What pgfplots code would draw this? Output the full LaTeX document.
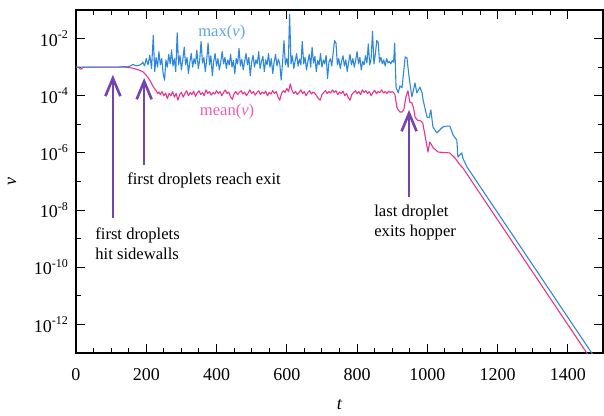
\documentclass[border=0pt]{standalone}
\usepackage{pgfplots}
\pgfplotsset{compat=1.18}
\usepackage{fontspec}
\setmainfont{Liberation Serif}
\usetikzlibrary{arrows.meta}

\definecolor{maxblue}{RGB}{45,135,222}
\definecolor{maxlabel}{RGB}{95,165,232}
\definecolor{meanpink}{RGB}{232,52,140}
\definecolor{meanlabel}{RGB}{236,95,170}
\definecolor{arrowpurple}{RGB}{115,68,178}

\begin{document}
\begin{tikzpicture}
\begin{axis}[
    scale only axis,
    width=263.5pt, height=171.5pt,
    at={(0,0)}, anchor=south west,
    ymode=log,
    xmin=0, xmax=1500,
    ymin=1e-13, ymax=1e-1,
    axis line style={line width=0.65pt},
    tick align=inside,
    tick style={black, line width=0.5pt},
    major tick length=4.5pt,
    minor tick length=2.3pt,
    xtick={0,200,400,600,800,1000,1200,1400},
    xticklabels={0,200,400,600,800,1000,1200,1400},
    minor x tick num=3,
    ytick={1e-12,1e-10,1e-8,1e-6,1e-4,1e-2},
    yticklabels={10\textsuperscript{-12},10\textsuperscript{-10},10\textsuperscript{-8},10\textsuperscript{-6},10\textsuperscript{-4},10\textsuperscript{-2}},
    minor ytick={1e-13,1e-11,1e-9,1e-7,1e-5,1e-3,1e-1},
    ticklabel style={font=\fontsize{9}{10}\selectfont},
    xticklabel style={yshift=-4pt},
    xlabel={\textit{t}},
    ylabel={\textit{v}},
    xlabel style={font=\fontsize{9}{10}\selectfont, at={(axis description cs:0.5,0)}, anchor=center, yshift=-26pt},
    ylabel style={font=\fontsize{9}{10}\selectfont, at={(axis description cs:0,0.5)}, anchor=center, yshift=32pt},
    clip=true,
]
% mean(v)
\addplot[meanpink, line width=0.55pt, line join=round] coordinates {
(0,1e-3) (8,1e-3) (12,8.5e-4) (16,8.7e-4) (20,1e-3) (140,1e-3) (160,9.3e-4)
(179,7.9e-4) (190,7e-4) (199,5.4e-4) (206,4.2e-4) (213,3e-4) (218,2.3e-4)
(222,1.9e-4) (228,1.5e-4) (232,1.2e-4) (236,1.35e-4)
(240,1.1e-4) (245,1.4e-4) (250,1.0e-4) (255,1.25e-4) (260,8e-5) (265,1.2e-4)
(270,1.0e-4) (275,1.4e-4) (280,9e-5) (285,1.2e-4) (290,7e-5) (295,1.1e-4)
(300,1.3e-4) (305,9e-5) (310,1.2e-4) (315,1.5e-4) (320,1.0e-4) (325,1.3e-4)
(330,1.1e-4) (335,1.45e-4) (340,9.5e-5) (345,1.25e-4) (350,1.5e-4) (355,1.1e-4)
(360,1.3e-4) (365,1.0e-4) (370,1.6e-4) (375,1.2e-4) (380,1.4e-4) (385,1.05e-4)
(390,1.3e-4) (395,1.15e-4) (400,1.5e-4) (405,1.2e-4) (410,1.4e-4) (415,1.0e-4)
(420,1.3e-4) (425,1.6e-4) (430,1.2e-4) (435,1.35e-4) (440,9e-5) (445,7.5e-5)
(450,1.2e-4) (455,1.4e-4) (460,1.1e-4) (465,1.3e-4) (470,1.5e-4) (475,1.15e-4)
(480,1.35e-4) (485,1.0e-4) (490,1.25e-4) (495,1.6e-4) (500,1.2e-4) (505,1.4e-4)
(510,1.05e-4) (515,1.3e-4) (520,1.5e-4) (525,1.1e-4) (530,1.35e-4) (535,1.2e-4)
(540,1.45e-4) (545,1.0e-4) (550,1.3e-4) (555,1.15e-4) (560,1.5e-4) (565,1.2e-4)
(570,1.4e-4) (575,9e-5) (580,7e-5) (585,1.2e-4) (590,1.5e-4) (595,1.3e-4)
(600,1.8e-4) (605,1.4e-4) (610,2.6e-4) (615,1.5e-4) (620,1.2e-4) (625,1.4e-4)
(630,1.1e-4) (635,1.3e-4) (640,1.6e-4) (645,1.2e-4) (650,1.4e-4) (655,1.0e-4)
(660,1.3e-4) (665,1.5e-4) (670,1.15e-4) (675,1.35e-4) (680,1.2e-4) (685,1.0e-4)
(690,8e-5) (695,7e-5) (700,1.1e-4) (705,1.3e-4) (710,1.5e-4) (715,1.2e-4)
(720,1.4e-4) (725,1.25e-4) (730,1.6e-4) (735,1.3e-4) (740,1.5e-4) (745,1.1e-4)
(750,1.35e-4) (755,1.2e-4) (760,1.45e-4) (765,1.0e-4) (770,1.2e-4) (775,8.5e-5)
(780,7e-5) (785,1.1e-4) (790,1.3e-4) (795,1.5e-4) (800,1.2e-4) (805,1.4e-4)
(810,1.1e-4) (815,1.6e-4) (820,1.3e-4) (825,1.5e-4) (830,1.2e-4) (835,1.4e-4)
(840,1.0e-4) (845,1.3e-4) (850,1.55e-4) (855,1.2e-4) (860,1.4e-4) (865,1.3e-4)
(870,1.6e-4) (875,1.25e-4) (880,1.4e-4) (885,1.2e-4) (890,1.45e-4) (895,1.3e-4)
(900,1.4e-4) (905,1.25e-4)
(908,1.07e-4) (913,4.1e-5) (917,3.2e-5) (922,2.7e-5) (928,2.7e-5) (933,3.2e-5)
(939,9.1e-5) (945,1.5e-4) (950,6.0e-5) (956,5.6e-5) (961,3.7e-5) (965,1.8e-5)
(972,1.4e-5) (982,1.3e-5) (987,1.1e-5) (993,4.3e-6) (1002,1.07e-6) (1007,2.4e-6)
(1017,1.5e-6) (1031,1.07e-6) (1064,1.0e-6) (1079,6.6e-7) (1093,3.8e-7)
(1101,3.0e-7) (1454,1e-13) (1470,5e-14)
};
% max(v)
\addplot[maxblue, line width=0.55pt, line join=round] coordinates {
(0,1e-3) (120,1e-3) (135,1.05e-3) (145,1.02e-3) (155,1.1e-3) (162,1.25e-3)
(168,1.15e-3) (175,1.12e-3) (182,1.2e-3) (188,1.35e-3)
(190,1.5e-3) (195,1.1e-3) (200,2.0e-3) (205,1.2e-3) (210,2.6e-3) (215,9e-4)
(220,1.3e-2) (224,7e-4) (228,2.2e-3) (232,1.0e-3) (236,3.5e-3) (240,1.2e-3)
(244,2.0e-3) (248,6e-4) (252,3.5e-4) (256,1.8e-3) (260,1.0e-3) (264,2.8e-3)
(268,1.3e-3) (272,4e-3) (276,1.1e-3) (280,2.0e-3) (284,7e-4) (288,1.6e-2)
(292,1.2e-3) (296,2.5e-3) (300,8e-4) (304,1.8e-3) (308,5e-3) (312,1.2e-3)
(316,2.2e-3) (320,6e-4) (324,1.5e-3) (328,3e-3) (332,1.0e-3) (336,2.0e-3)
(340,1.3e-3) (344,4e-3) (348,9e-4) (352,1.7e-3) (356,8e-3) (360,1.4e-3)
(364,2.2e-3) (368,7e-4) (372,1.8e-3) (376,7e-3) (380,1.2e-3) (384,2.5e-3)
(388,5e-4) (392,1.6e-3) (396,3e-3) (400,1.1e-3) (404,2.0e-3) (408,8e-4)
(412,1.5e-3) (416,3.5e-3) (420,1.3e-3) (424,2.2e-3) (428,9e-4) (432,1.8e-3)
(436,1.2e-3) (440,2.8e-3) (444,1.0e-3) (448,1.7e-3) (452,6e-4) (456,2.0e-3)
(460,1.3e-3) (464,4.5e-3) (468,1.1e-3) (472,1.9e-3) (476,8e-4) (480,1.6e-3)
(484,3e-3) (488,1.2e-3) (492,2.2e-3) (496,5e-4) (500,1.5e-3) (504,2.6e-3)
(508,1.0e-3) (512,1.8e-3) (516,1.3e-3) (520,3.5e-3) (524,9e-4) (528,1.6e-3)
(532,2.4e-3) (536,7e-4) (540,1.8e-3) (544,1.2e-3) (548,3e-3) (552,1.0e-3)
(556,2.0e-3) (560,6e-4) (564,1.5e-3) (568,2.8e-3) (572,1.1e-3) (576,1.9e-3)
(580,1.3e-3) (584,3.5e-4) (588,1.5e-3) (592,8.5e-3) (596,1.2e-3) (600,2.0e-3)
(604,1.0e-3) (608,7e-2) (612,1.3e-3) (616,2.5e-3) (620,9e-4) (624,1.7e-3)
(628,3e-3) (632,1.1e-3) (636,1.9e-3) (640,1.2e-3) (644,8e-3) (648,1.3e-3)
(652,2.2e-3) (656,8e-4) (660,1.6e-3) (664,2.8e-3) (668,1.0e-3) (672,5e-3)
(676,1.4e-3) (680,2.4e-3) (684,7e-4) (688,1.7e-3) (692,1.2e-3) (696,3e-3)
(700,1.0e-3) (704,1.8e-3) (708,1.3e-3) (712,2.6e-3) (716,4e-4) (720,1.5e-3)
(724,2.0e-3) (728,1.1e-3) (732,3.2e-3) (736,8.5e-3) (740,7e-3) (744,1.2e-3)
(748,2.0e-3) (752,9e-4) (756,1.6e-3) (760,2.5e-3) (764,1.1e-3) (768,1.8e-3)
(772,7e-4) (776,1.5e-3) (780,2.8e-3) (784,1.2e-3) (788,2.0e-3) (792,1.0e-3)
(796,1.7e-3) (800,3.5e-3) (804,1.3e-3) (808,2.2e-3) (812,8e-4) (816,1.6e-3)
(820,1.2e-3) (824,2.5e-3) (828,1.4e-3) (832,6.5e-3) (836,1.2e-3) (840,2.0e-3)
(844,1.8e-2) (848,1.3e-3) (852,2.8e-3) (856,8.5e-3) (860,7.5e-3) (864,1.5e-3)
(868,2.2e-3) (872,1.3e-3) (876,1.8e-3) (880,1.1e-3) (884,2.0e-3) (888,1.4e-3)
(892,1.6e-3) (896,1.3e-3) (900,1.7e-3) (904,1.5e-3) (907,7e-3)
(911,2.0e-4) (917,1.26e-4) (922,2.2e-4) (928,1.9e-4) (937,2.3e-3) (942,2.1e-3)
(948,4.6e-4) (956,9.1e-5) (965,2.8e-4) (970,1.26e-4) (979,2.0e-4) (985,1.26e-4)
(988,7.1e-5) (999,1.8e-5) (1005,1.7e-5) (1010,3.2e-5) (1016,8.1e-6) (1027,5.0e-6)
(1044,8.1e-6) (1056,8.7e-6) (1064,8.7e-6) (1073,4.3e-6) (1084,2.8e-6)
(1087,7.2e-7) (1098,1.0e-6) (1101,6.6e-7) (1113,3.2e-7) (1468,1e-13) (1480,6e-14)
};
% labels
\node[maxlabel, font=\fontsize{8.3}{10}\selectfont] at (axis cs:415,1.58e-2) {max(\textit{v})};
\node[meanlabel, font=\fontsize{8.3}{10}\selectfont] at (axis cs:430,2.7e-5) {mean(\textit{v})};
% arrows
\draw[arrowpurple, line width=1.3pt, -{Straight Barb[length=9pt,width=7.5pt]}] (axis cs:105,5.2e-9) -- (axis cs:105,5.4e-4);
\draw[arrowpurple, line width=1.3pt, -{Straight Barb[length=9pt,width=7.5pt]}] (axis cs:194,3.8e-7) -- (axis cs:194,4.2e-4);
\draw[arrowpurple, line width=1.3pt, -{Straight Barb[length=9pt,width=7.5pt]}] (axis cs:948,2.9e-8) -- (axis cs:948,3.2e-5);
% annotations
\node[anchor=west, align=left, inner sep=0pt, font=\fontsize{8.3}{10}\selectfont] at (axis cs:54,6.5e-10) {first droplets\\hit sidewalls};
\node[anchor=west, inner sep=0pt, font=\fontsize{8.3}{10}\selectfont] at (axis cs:145,1.05e-7) {first droplets reach exit};
\node[anchor=west, align=left, inner sep=0pt, font=\fontsize{8.3}{10}\selectfont] at (axis cs:848,3.8e-9) {last droplet\\exits hopper};
\end{axis}
\pgfresetboundingbox
\path (-38pt,-31.5pt) rectangle (264pt,176.5pt);
\end{tikzpicture}
\end{document}
